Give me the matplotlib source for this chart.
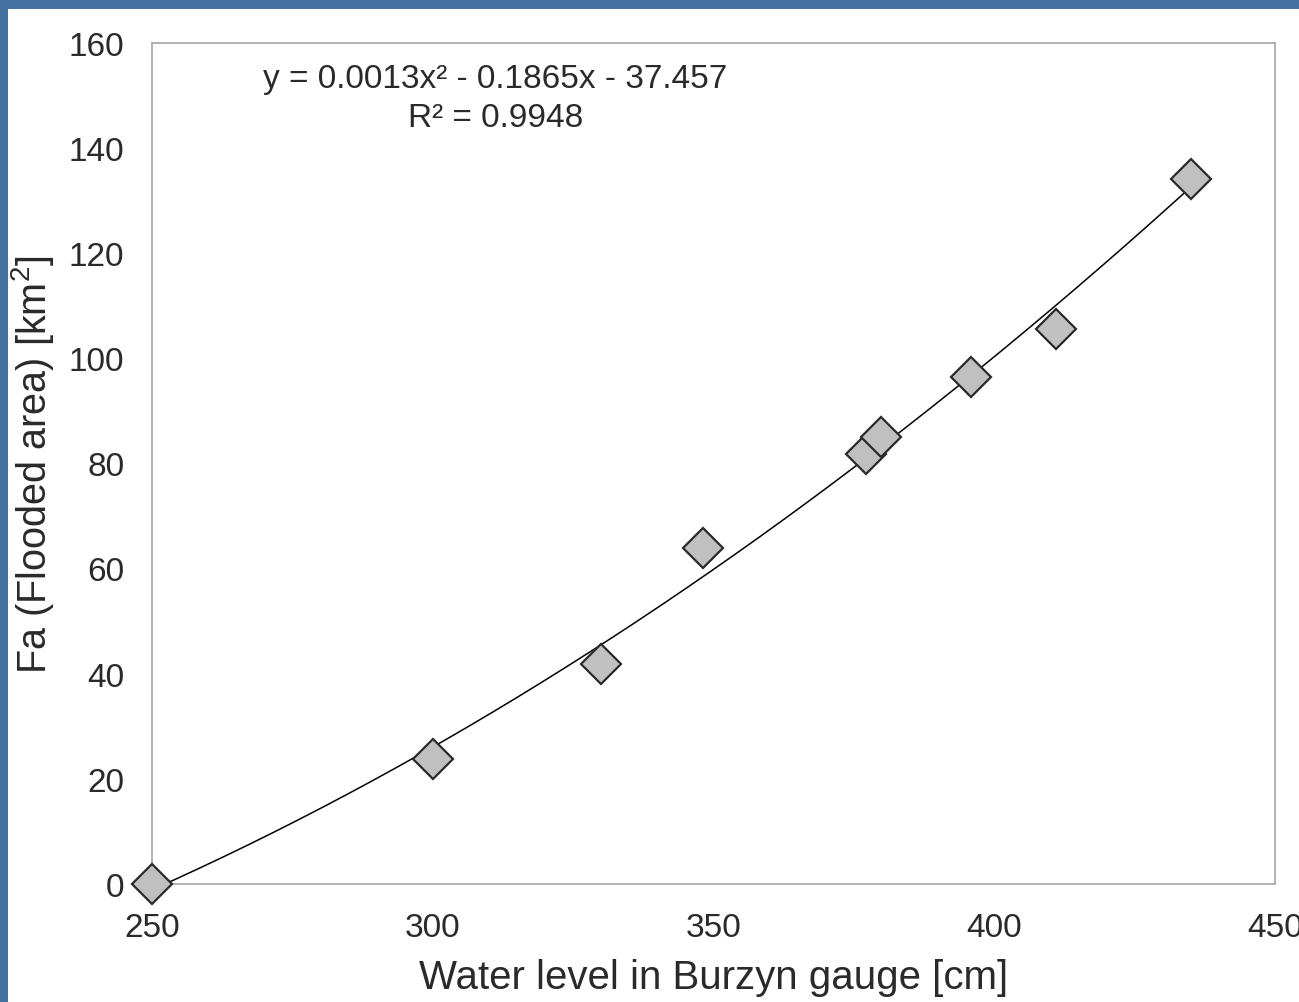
import numpy as np
import matplotlib
matplotlib.use("Agg")
import matplotlib.pyplot as plt
from matplotlib.patches import Rectangle

plt.rcParams['font.family'] = ['Liberation Sans', 'DejaVu Sans']
plt.rcParams['mathtext.fontset'] = 'custom'
plt.rcParams['mathtext.rm'] = 'Liberation Sans'

# water level [cm] vs flooded area [km2]
water_level = [250, 300, 330, 348.2, 377.1, 379.9, 395.8, 411.0, 435.0]
flooded_area = [0, 23.7, 41.8, 63.8, 81.8, 85, 96.5, 105.6, 134]
x_ticks = [250, 300, 350, 400, 450]
y_ticks = [0, 20, 40, 60, 80, 100, 120, 140, 160]
equation = "y = 0.0013x² - 0.1865x - 37.457"
r_squared = "R² = 0.9948"

fig = plt.figure(figsize=(12.99, 10.03), dpi=100)
fig.patch.set_facecolor('white')

# blue frame strips (left and top)
fig.patches.append(Rectangle((0, 0), 8 / 1299, 1, transform=fig.transFigure,
                             facecolor='#4471a0', edgecolor='none'))
fig.patches.append(Rectangle((0, 1 - 10 / 1003), 1, 10 / 1003, transform=fig.transFigure,
                             facecolor='#4471a0', edgecolor='none'))

ax = fig.add_axes([0.117, 0.1176, 0.8645, 0.839])

# 2nd order polynomial trendline
coef = np.polyfit(water_level, flooded_area, 2)
xs = np.linspace(min(water_level), max(water_level), 300)
ax.plot(xs, np.polyval(coef, xs), color='black', linewidth=1.1, zorder=2)

ax.plot(water_level, flooded_area, linestyle='none', marker='D', markersize=20.5,
        markerfacecolor='#c0c0c0', markeredgecolor='#2a2a2a', markeredgewidth=1.6,
        clip_on=False, zorder=3)

ax.set_xlim(250, 450)
ax.set_ylim(0, 160)
ax.set_xticks(x_ticks)
ax.set_yticks(y_ticks)
ax.tick_params(length=0, labelsize=24, pad=20, labelcolor='#2a2a2a')

for s in ax.spines.values():
    s.set_color('#a6a6a6')
    s.set_linewidth(1.2)

ax.set_xlabel("Water level in Burzyn gauge [cm]", fontsize=29, labelpad=11, color='#2a2a2a')
ax.set_ylabel(r"Fa (Flooded area) [km$^\mathregular{2}$]", fontsize=28.5, labelpad=9, color='#2a2a2a')

ax.text(0.306, 0.957, equation, transform=ax.transAxes, ha='center', va='center',
        fontsize=24, color='#2a2a2a')
ax.text(0.306, 0.911, r_squared, transform=ax.transAxes, ha='center', va='center',
        fontsize=24, color='#2a2a2a')

fig.savefig("out.png", dpi=100, facecolor='white')
